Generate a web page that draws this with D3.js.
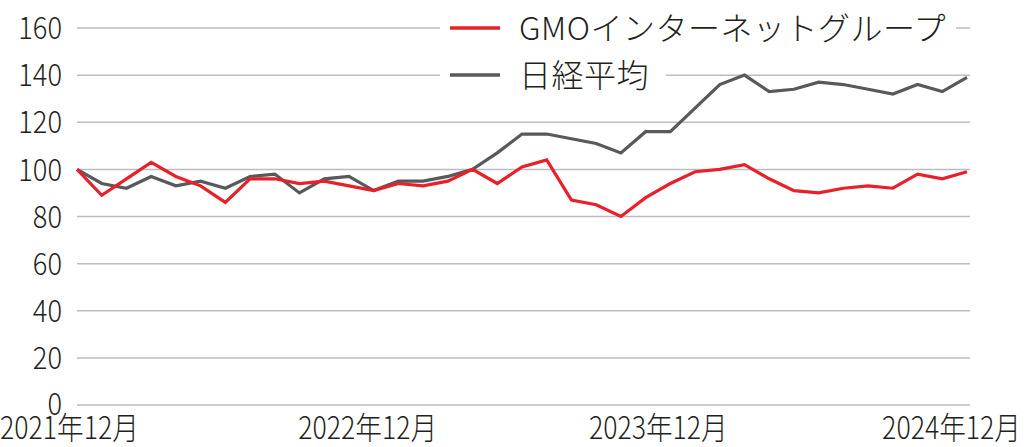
<!DOCTYPE html>
<html>
<head>
<meta charset="utf-8">
<script src="https://cdn.jsdelivr.net/npm/d3@7"></script>
<style>
  body { margin: 0; background: #fff; }
  text { font-family: "Noto Sans CJK JP", "Noto Sans", sans-serif; fill: #231f20; }
</style>
</head>
<body>
<svg id="chart" width="1024" height="447"></svg>
<script>
// 月次データ (2021年12月 = 100)
const months = d3.range(37).map(i => new Date(2021, 11 + i, 1));
const gmo = [100, 89, 96, 103, 97, 93, 86, 96, 96, 94, 95, 93, 91,
             94, 93, 95, 100, 94, 101, 104, 87, 85, 80, 88, 94,
             99, 100, 102, 96, 91, 90, 92, 93, 92, 98, 96, 99];
const nikkei = [100, 94, 92, 97, 93, 95, 92, 97, 98, 90, 96, 97, 91,
                95, 95, 97, 100, 107, 115, 115, 113, 111, 107, 116, 116,
                126, 136, 140, 133, 134, 137, 136, 134, 132, 136, 133, 139];
const yTicks = [0, 20, 40, 60, 80, 100, 120, 140, 160];
const xLabelIdx = [0, 12, 24, 36];
const seriesNames = ["GMOインターネットグループ", "日経平均"];
const seriesColors = ["#e8202a", "#58595b"];

const svg = d3.select("#chart");
const margin = { top: 28, right: 54, bottom: 42, left: 77 };
const W = 1024, H = 447;

const x = d3.scaleLinear().domain([0, 36]).range([margin.left, W - margin.right - 3]);
const y = d3.scaleLinear().domain([0, 160]).range([H - margin.bottom, margin.top]);

// grid
svg.append("g").selectAll("line")
  .data(yTicks).join("line")
  .attr("x1", margin.left).attr("x2", W - margin.right)
  .attr("y1", d => y(d)).attr("y2", d => y(d))
  .attr("stroke", "#bcbdc0").attr("stroke-width", 1.5);

// y labels (condensed look)
svg.append("g").selectAll("text")
  .data(yTicks).join("text")
  .attr("transform", d => `translate(62,${y(d) - (d === 0 ? 1 : 0)}) scale(0.88,1)`)
  .attr("dy", "0.36em")
  .attr("text-anchor", "end")
  .attr("font-size", 31)
  .attr("font-weight", 300)
  .text(d => d);

// x labels
const fmt = d => `${d.getFullYear()}年${d.getMonth() + 1}月`;
const last = xLabelIdx.length - 1;
svg.append("g").selectAll("text")
  .data(xLabelIdx).join("text")
  .attr("transform", (d, i) => {
    const px = i === 0 ? 0 : (i === last ? W - 3 : x(d) - 6 * i);
    return `translate(${px},439) scale(0.86,1)`;
  })
  .attr("text-anchor", (d, i) => i === 0 ? "start" : (i === last ? "end" : "middle"))
  .attr("font-size", 31)
  .attr("font-weight", 300)
  .text(d => fmt(months[d]));

// legend background (hides grid)
const legend = svg.append("g");
legend.append("rect").attr("x", 440).attr("y", 8).attr("width", 516).attr("height", 40).attr("fill", "#fff");
legend.append("rect").attr("x", 440).attr("y", 54).attr("width", 226).attr("height", 40).attr("fill", "#fff");

// lines
const line = d3.line().x((d, i) => x(i)).y(d => y(d));
[nikkei, gmo].forEach((s, k) => {
  svg.append("path")
    .datum(s)
    .attr("fill", "none")
    .attr("stroke", k === 0 ? seriesColors[1] : seriesColors[0])
    .attr("stroke-width", 3.2)
    .attr("stroke-linejoin", "miter")
    .attr("d", line);
});

// legend entries
seriesNames.forEach((name, i) => {
  const ly = 28 + i * 47;
  legend.append("line")
    .attr("x1", 450).attr("x2", 500)
    .attr("y1", ly).attr("y2", ly)
    .attr("stroke", seriesColors[i]).attr("stroke-width", 3.5);
  legend.append("text")
    .attr("x", 519).attr("y", ly)
    .attr("dy", "0.36em")
    .attr("font-size", 32)
    .attr("font-weight", 300)
    .attr("letter-spacing", 0.5)
    .text(name);
});
</script>
</body>
</html>
